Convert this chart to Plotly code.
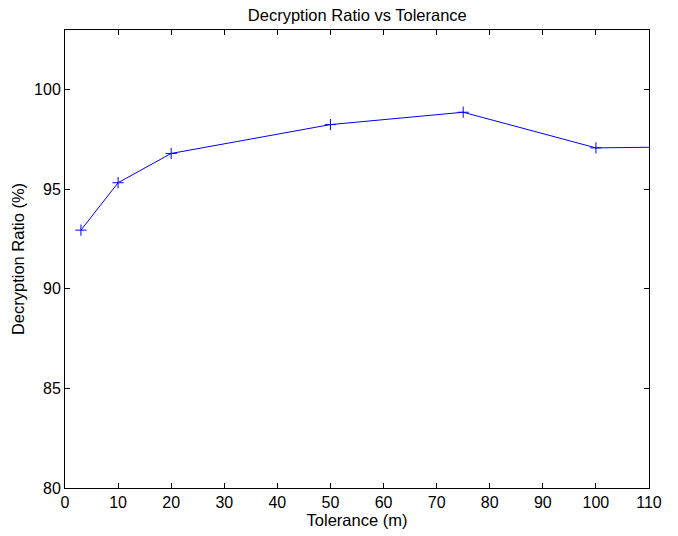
import plotly.graph_objects as go

tolerance = [3, 10, 20, 50, 75, 100, 150]
ratio = [92.95, 95.33, 96.8, 98.25, 98.87, 97.08, 97.23]

x_ticks = [0, 10, 20, 30, 40, 50, 60, 70, 80, 90, 100, 110]
y_ticks = [80, 85, 90, 95, 100]

fig = go.Figure()
fig.add_trace(go.Scatter(
    x=tolerance, y=ratio, mode="lines+markers",
    line=dict(color="#0000ff", width=1),
    marker=dict(symbol="cross-thin", size=8, line=dict(color="#0000ff", width=1)),
    cliponaxis=True,
))

font = "Liberation Sans, Arial, sans-serif"
fig.update_layout(
    width=678, height=536,
    margin=dict(l=65, r=29, t=30, b=45),
    paper_bgcolor="white", plot_bgcolor="white",
    showlegend=False,
    font=dict(family=font, color="black", size=16),
    title=dict(text="Decryption Ratio vs Tolerance", x=0.527, xanchor="center",
               y=1 - 21 / 536, yanchor="bottom", font=dict(size=16.5, family=font)),
)
fig.update_xaxes(
    range=[0, 110], tickvals=x_ticks, ticks="inside", ticklen=5, tickcolor="black",
    showline=True, linecolor="black", linewidth=1, mirror="allticks",
    showgrid=False, zeroline=False, tickfont=dict(size=16),
    title=dict(text="Tolerance (m)", font=dict(size=16.5), standoff=1),
)
fig.update_yaxes(
    range=[80, 103], tickvals=y_ticks, ticks="inside", ticklen=5, tickcolor="black",
    showline=True, linecolor="black", linewidth=1, mirror="allticks",
    showgrid=False, zeroline=False, tickfont=dict(size=16),
    title=dict(text="Decryption Ratio (%)", font=dict(size=16.5), standoff=5),
)
fig.write_html("out.html")
